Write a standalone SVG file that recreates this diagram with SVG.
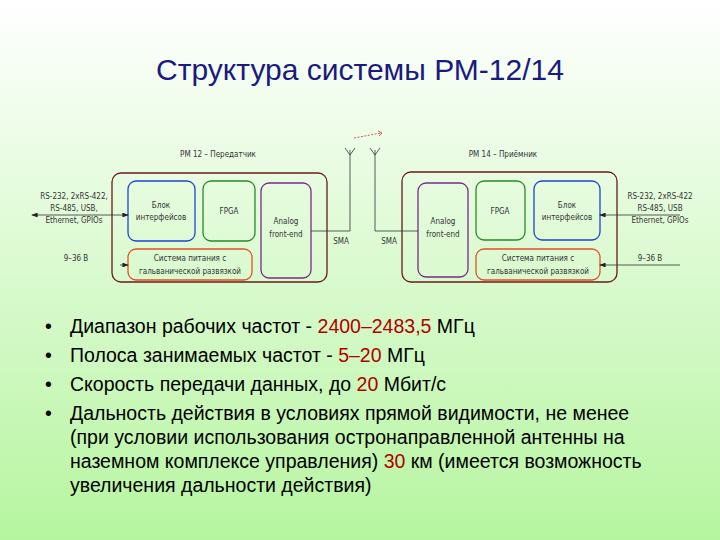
<svg xmlns="http://www.w3.org/2000/svg" width="720" height="540" viewBox="0 0 720 540">
<defs>
<linearGradient id="bg" x1="0" y1="0" x2="0" y2="1"><stop offset="0" stop-color="#ffffff"/><stop offset="1" stop-color="#b6f5a0"/></linearGradient>
<marker id="ar" markerWidth="8" markerHeight="6" refX="7" refY="3" orient="auto-start-reverse"><path d="M0,0 L8,3 L0,6 z" fill="#222"/></marker>
<style>
.t{font-family:"Liberation Sans",Arial,sans-serif;fill:#000}
.s{font-family:"DejaVu Sans Condensed","DejaVu Sans",sans-serif;font-size:8px;fill:#333}
.b{fill:none;stroke-width:1.3}
.ln{fill:none;stroke:#333;stroke-width:0.8}
.r{fill:#b00000}
</style>
</defs>
<rect width="720" height="540" fill="url(#bg)"/>
<text class="t" x="360" y="80" font-size="30" text-anchor="middle" style="fill:#1a1a80">Структура системы РМ-12/14</text>
<g id="left">
<text class="s" x="218" y="157" text-anchor="middle">РМ 12 – Передатчик</text>
<rect class="b" x="112" y="173" width="215" height="109" rx="9" stroke="#6b1a1a"/>
<g id="l-if"><rect class="b" x="128" y="181" width="67" height="60" rx="8" stroke="#2244cc"/><text class="s" x="161" y="208" text-anchor="middle">Блок</text><text class="s" x="161" y="220" text-anchor="middle">интерфейсов</text></g>
<g id="l-fpga"><rect class="b" x="203" y="181" width="52" height="60" rx="8" stroke="#2a8a2a"/><text class="s" x="229" y="214" text-anchor="middle">FPGA</text></g>
<g id="l-afe"><rect class="b" x="261" y="183" width="50" height="95" rx="8" stroke="#7a2a8a"/><text class="s" x="286" y="224" text-anchor="middle">Analog</text><text class="s" x="286" y="237" text-anchor="middle">front-end</text></g>
<g id="l-pw"><rect class="b" x="128" y="249" width="124" height="31" rx="8" stroke="#e0502a"/><text class="s" x="190" y="261" text-anchor="middle">Система питания с</text><text class="s" x="190" y="274" text-anchor="middle">гальванической развязкой</text></g>
<text class="s" x="74" y="199" text-anchor="middle">RS-232, 2xRS-422,</text>
<text class="s" x="74" y="211" text-anchor="middle">RS-485, USB,</text>
<text class="s" x="74" y="223" text-anchor="middle">Ethernet, GPIOs</text>
<text class="s" x="76" y="261" text-anchor="middle">9–36 В</text>
<text class="s" x="341" y="244" text-anchor="middle">SMA</text>
</g>
<g id="right">
<text class="s" x="503" y="157" text-anchor="middle">РМ 14 – Приёмник</text>
<rect class="b" x="402" y="172" width="215" height="110" rx="9" stroke="#6b1a1a"/>
<g id="r-afe"><rect class="b" x="418" y="183" width="50" height="94" rx="8" stroke="#7a2a8a"/><text class="s" x="443" y="224" text-anchor="middle">Analog</text><text class="s" x="443" y="237" text-anchor="middle">front-end</text></g>
<g id="r-fpga"><rect class="b" x="476" y="181" width="49" height="59" rx="8" stroke="#2a8a2a"/><text class="s" x="500" y="214" text-anchor="middle">FPGA</text></g>
<g id="r-if"><rect class="b" x="534" y="181" width="66" height="59" rx="8" stroke="#2244cc"/><text class="s" x="567" y="208" text-anchor="middle">Блок</text><text class="s" x="567" y="220" text-anchor="middle">интерфейсов</text></g>
<g id="r-pw"><rect class="b" x="476" y="249" width="124" height="31" rx="8" stroke="#e0502a"/><text class="s" x="538" y="261" text-anchor="middle">Система питания с</text><text class="s" x="538" y="274" text-anchor="middle">гальванической развязкой</text></g>
<text class="s" x="660" y="199" text-anchor="middle">RS-232, 2xRS-422</text>
<text class="s" x="660" y="211" text-anchor="middle">RS-485, USB</text>
<text class="s" x="660" y="223" text-anchor="middle">Ethernet, GPIOs</text>
<text class="s" x="650" y="261" text-anchor="middle">9–36 В</text>
<text class="s" x="389" y="244" text-anchor="middle">SMA</text>
</g>
<g id="connectors">
<path class="ln" d="M32,215 H128" marker-start="url(#ar)" marker-end="url(#ar)"/>
<path class="ln" d="M120,265 H128" marker-end="url(#ar)"/>
<path class="ln" d="M311,231 H350 V150 M345,148 L350,155 L355,148"/>
<path class="ln" d="M418,231 H375 V150 M370,148 L375,155 L380,148"/>
<path class="ln" d="M680,215 H600" marker-end="url(#ar)"/>
<path class="ln" d="M680,265 H600" marker-end="url(#ar)"/>
<path d="M354,138 L381,133" stroke="#c03030" stroke-width="0.8" stroke-dasharray="2,1.5" fill="none"/>
<path d="M378,131 L382,133 L379,136" stroke="#c03030" stroke-width="0.8" fill="none"/>
</g>
<g id="bullets" font-size="19.5">
<text class="t" x="45" y="333">•</text><text class="t" x="70" y="333">Диапазон рабочих частот - <tspan class="r">2400–2483,5</tspan> МГц</text>
<text class="t" x="45" y="362">•</text><text class="t" x="70" y="362">Полоса занимаемых частот - <tspan class="r">5–20</tspan> МГц</text>
<text class="t" x="45" y="391">•</text><text class="t" x="70" y="391">Скорость передачи данных, до <tspan class="r">20</tspan> Мбит/с</text>
<text class="t" x="45" y="420">•</text><text class="t" x="70" y="420">Дальность действия в условиях прямой видимости, не менее</text>
<text class="t" x="70" y="444">(при условии использования остронаправленной антенны на</text>
<text class="t" x="70" y="468">наземном комплексе управления) <tspan class="r">30</tspan> км (имеется возможность</text>
<text class="t" x="70" y="492">увеличения дальности действия)</text>
</g>
</svg>
